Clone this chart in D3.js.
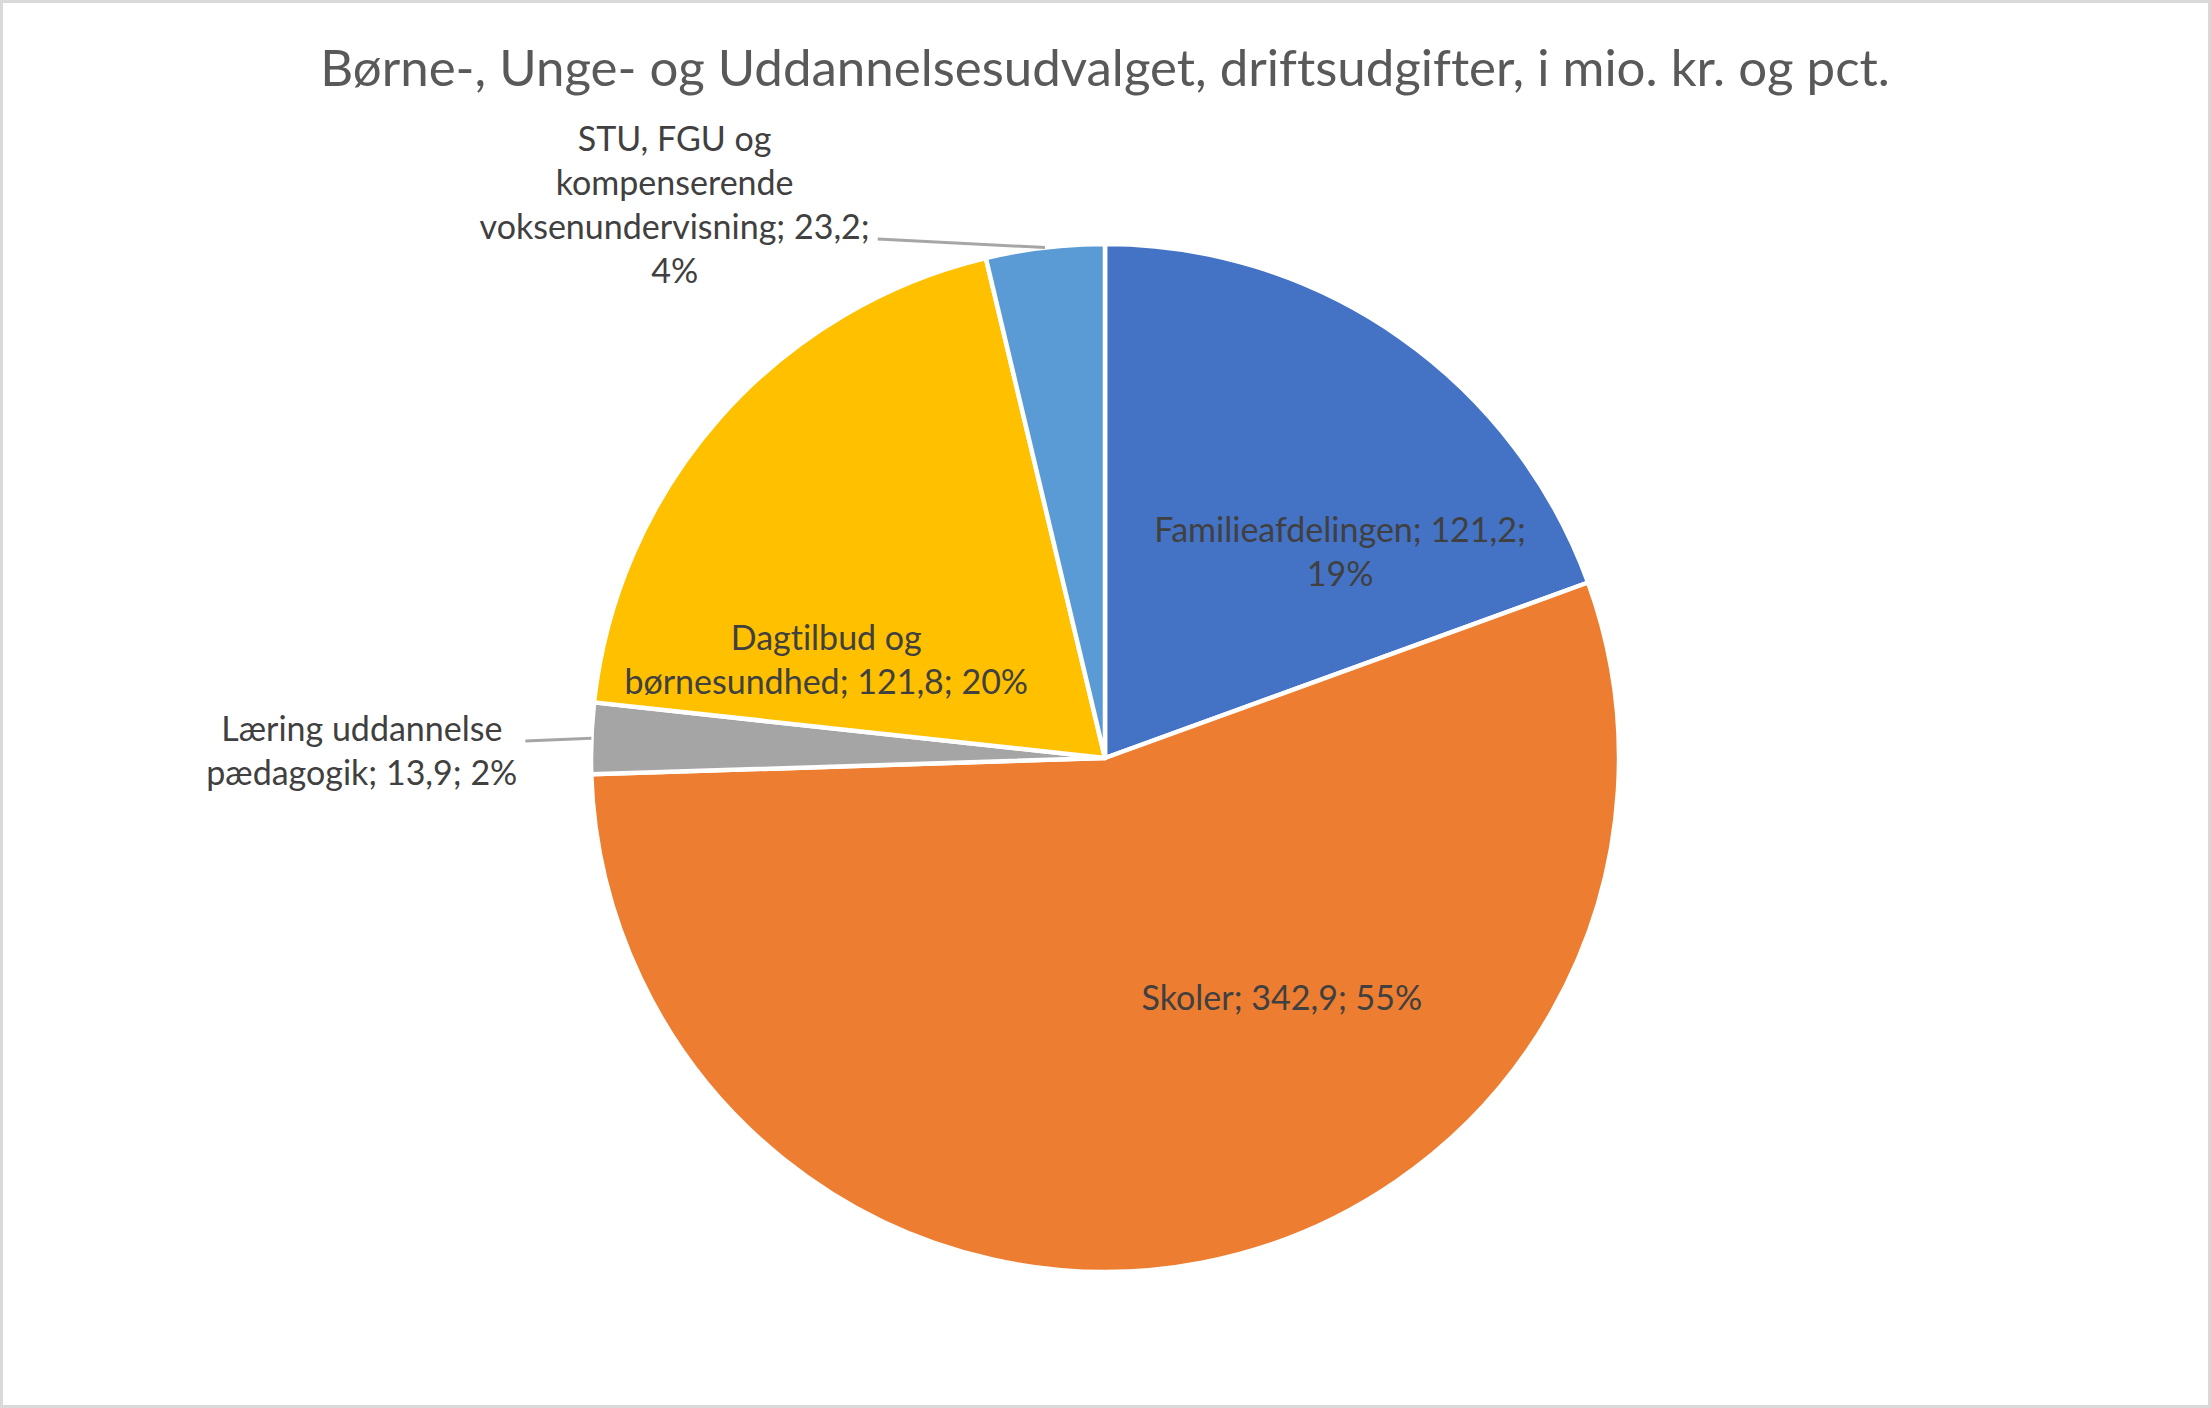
<!DOCTYPE html>
<html>
<head>
<meta charset="utf-8">
<script src="https://cdn.jsdelivr.net/npm/d3@7"></script>
<style>
  body { margin: 0; background: #fff; }
  text { font-family: Lato, "Open Sans", sans-serif; font-variant-ligatures: none; }
</style>
</head>
<body>
<div id="chart"></div>
<script>
// data
var categories = ["Familieafdelingen", "Skoler", "Læring uddannelse pædagogik", "Dagtilbud og børnesundhed", "STU, FGU og kompenserende voksenundervisning"];
var values = [121.2, 342.9, 13.9, 121.8, 23.2];
var colors = ["#4472C4", "#ED7D31", "#A5A5A5", "#FFC000", "#5B9BD5"];
var title = "Børne-, Unge- og Uddannelsesudvalget, driftsudgifter, i mio. kr. og pct.";

// label layout: words per line, polar position (deg from top, fraction of radius), outside = leader line
var labelLayout = [
    { lines: [2, 1], angle: 48.8, r: 0.608, outside: false },
    { lines: [3], angle: 143.6, r: 0.580, outside: false },
    { lines: [2, 3], angle: 270.5, r: 1.446, outside: true },
    { lines: [2, 3], angle: 289.4, r: 0.575, outside: false },
    { lines: [3, 1, 2, 1], angle: 322.1, r: 1.363, outside: true }
];

var width = 2211, height = 1408;
var cx = 1105, cy = 758, radius = 514;
var labelSize = 34, lineGap = 44;

var svg = d3.select("#chart")
    .append("svg")
    .attr("width", width)
    .attr("height", height);

// chart border
svg.append("rect")
    .attr("x", 1.5).attr("y", 1.5)
    .attr("width", width - 3).attr("height", height - 3)
    .style("fill", "#fff")
    .style("stroke", "#D9D9D9")
    .style("stroke-width", 3);

svg.append("text")
    .attr("x", cx)
    .attr("y", 86)
    .attr("text-anchor", "middle")
    .attr("font-size", "51px")
    .style("fill", "#595959")
    .text(title);

var total = d3.sum(values);
var data = categories.map(function (c, i) { return { name: c, value: values[i], color: colors[i], layout: labelLayout[i] }; });

var pie = d3.pie().sort(null).value(function (d) { return d.value; });
var arc = d3.arc().innerRadius(0).outerRadius(radius);
var arcs = pie(data);

var g = svg.append("g").attr("transform", "translate(" + cx + "," + cy + ")");

g.selectAll("path.slice")
    .data(arcs)
    .enter()
    .append("path")
    .attr("class", "slice")
    .attr("d", arc)
    .style("fill", function (d) { return d.data.color; })
    .style("stroke", "#fff")
    .style("stroke-width", 4.5)
    .style("stroke-linejoin", "round");

var fmt = function (v) { return d3.format(".1f")(v).replace(".", ","); };

function polar(angleDeg, r) {
    var a = angleDeg * Math.PI / 180;
    return [r * Math.sin(a), -r * Math.cos(a)];
}

arcs.forEach(function (d) {
    var lay = d.data.layout;
    var pct = Math.round(d.data.value / total * 100);
    var words = (d.data.name + "; " + fmt(d.data.value) + "; " + pct + "%").split(" ");
    var lines = [], k = 0;
    lay.lines.forEach(function (n) { lines.push(words.slice(k, k + n).join(" ")); k += n; });

    var pos = polar(lay.angle, lay.r * radius);
    var lg = g.append("g").attr("class", "label");
    var y0 = pos[1] - (lines.length - 1) * lineGap / 2;
    var maxW = 0;
    lines.forEach(function (t, i) {
        var txt = lg.append("text")
            .attr("x", pos[0])
            .attr("y", y0 + i * lineGap)
            .attr("dy", "0.35em")
            .attr("text-anchor", "middle")
            .attr("font-size", labelSize + "px")
            .style("fill", "#404040")
            .text(t);
        maxW = Math.max(maxW, txt.node().getComputedTextLength());
    });

    if (lay.outside) {
        // leader line from label edge to the slice rim at its mid angle
        var mid = (d.startAngle + d.endAngle) / 2 * 180 / Math.PI;
        var end = polar(mid, radius);
        var sy = end[1] + (pos[1] - end[1]) * 0.2;
        g.insert("line", ".label")
            .attr("x1", pos[0] + maxW / 2 + 8)
            .attr("y1", sy)
            .attr("x2", end[0])
            .attr("y2", end[1])
            .style("stroke", "#A6A6A6")
            .style("stroke-width", 3);
    }
});
</script>
</body>
</html>
